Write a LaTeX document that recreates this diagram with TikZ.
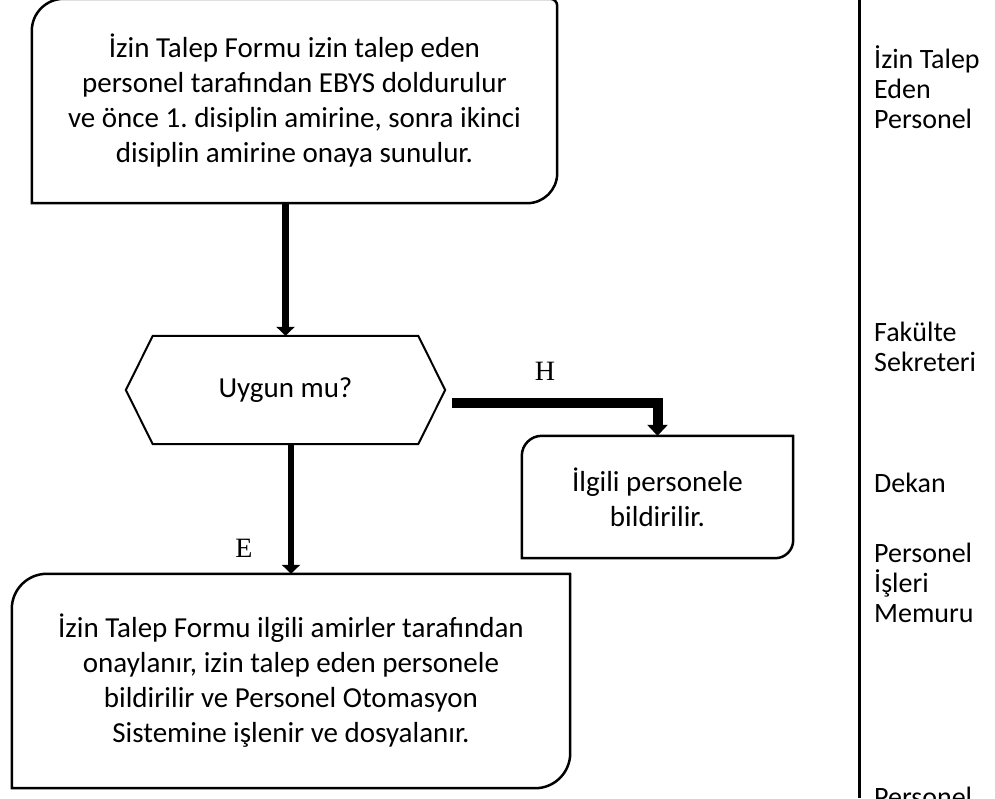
\documentclass[tikz,border=0pt]{standalone}
\usepackage{fontspec}
\setmainfont{Carlito}
\newfontfamily\harf{Liberation Serif}
\usetikzlibrary{arrows.meta}
\frenchspacing

\tikzset{
  kutu/.style={inner sep=0pt, align=center, font=\fontsize{29}{35}\selectfont},
  sorumlu/.style={inner sep=0pt, anchor=west, align=left, font=\fontsize{28}{30}\selectfont},
  ok/.style={line width=6.5pt, -{Triangle[width=18pt,length=9pt]}},
  etiket/.style={inner sep=0pt, font=\harf\fontsize{28}{30}\selectfont}
}

% kose yaricaplari: sol ust, sag ust, sag alt
\newcommand{\kosekutu}[4]{%
  \draw[line width=2.5pt] ([yshift=-#2]#1.north west) arc[start angle=180, end angle=90, radius=#2]
    -- ([xshift=-#3]#1.north east) arc[start angle=90, end angle=0, radius=#3]
    -- ([yshift=#4]#1.south east) arc[start angle=0, end angle=-90, radius=#4]
    -- (#1.south west) -- cycle;}

\begin{document}
\begin{tikzpicture}[x=1pt,y=-1pt]
  \useasboundingbox (0,0) rectangle (995,798);
  % akis
  \node[kutu, minimum width=525pt, minimum height=204pt] (talep) at (294.5,101)
    {İzin Talep Formu izin talep eden\\personel tarafından EBYS doldurulur\\ve önce 1. disiplin amirine, sonra ikinci\\disiplin amirine onaya sunulur.};
  \kosekutu{talep}{32pt}{7pt}{30pt}
  \node[kutu, minimum width=319pt, minimum height=108pt] (karar) at (285.5,390) {Uygun mu?};
  \draw[line width=2pt] (karar.west) -- ([xshift=27pt]karar.north west) -- ([xshift=-27pt]karar.north east)
    -- (karar.east) -- ([xshift=-27pt]karar.south east) -- ([xshift=27pt]karar.south west) -- cycle;
  \node[kutu, minimum width=271pt, minimum height=122pt] (bildir) at (657.5,497) {İlgili personele\\bildirilir.};
  \kosekutu{bildir}{20pt}{0.1pt}{18pt}
  \node[kutu, minimum width=558pt, minimum height=214pt] (onay) at (291,681)
    {İzin Talep Formu ilgili amirler tarafından\\onaylanır, izin talep eden personele\\bildirilir ve Personel Otomasyon\\Sistemine işlenir ve dosyalanır.};
  \kosekutu{onay}{35pt}{0.1pt}{35pt}
  \draw[ok] (karar.north |- talep.south) -- (karar.north);
  \draw[ok, line width=10pt, -{Triangle[width=20pt,length=11pt]}] ([shift={(7,13)}]karar.east) -| (bildir.north);
  \draw[ok] (karar.south -| onay.north) -- (onay.north);
  \node[etiket] (h) at (545,371) {H};
  \node[etiket] (e) at (244,548) {E};
  % sorumlular
  \draw[line width=3pt] (859,0) -- (859,798);
  \node[sorumlu] (s1) at (874,87) {İzin Talep\\Eden\\Personel};
  \node[sorumlu] (s2) at (874,347) {Fakülte\\Sekreteri};
  \node[sorumlu] (s3) at (874,483) {Dekan};
  \node[sorumlu] (s4) at (874,583) {Personel\\İşleri\\Memuru};
  \node[sorumlu] (s5) at (874,797) {Personel};
\end{tikzpicture}
\end{document}
